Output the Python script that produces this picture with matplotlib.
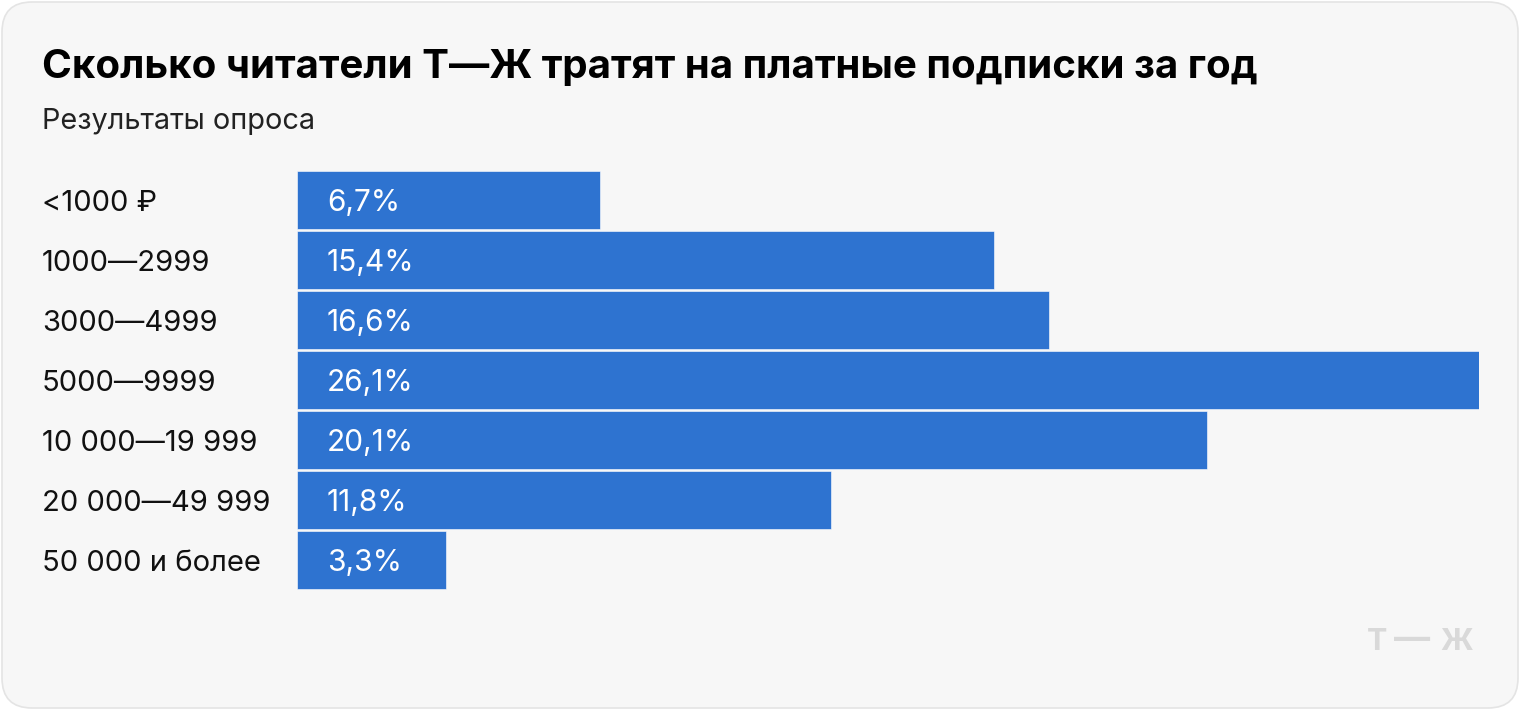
import matplotlib.pyplot as plt
from matplotlib.patches import FancyBboxPatch

plt.rcParams['font.family'] = ['Inter', 'DejaVu Sans']

W, H = 1520, 710

categories = ["<1000 ₽", "1000—2999", "3000—4999", "5000—9999",
              "10 000—19 999", "20 000—49 999", "50 000 и более"]
shares = [6.7, 15.4, 16.6, 26.1, 20.1, 11.8, 3.3]
value_labels = ["6,7%", "15,4%", "16,6%", "26,1%", "20,1%", "11,8%", "3,3%"]

TITLE = "Сколько читатели Т—Ж тратят на платные подписки за год"
SUBTITLE = "Результаты опроса"
BAR = "#2e73d0"

fig = plt.figure(figsize=(W / 100, H / 100), dpi=100)
fig.patch.set_facecolor("white")

# card background
bg = fig.add_axes([0, 0, 1, 1])
bg.set_xlim(0, W)
bg.set_ylim(H, 0)
bg.axis("off")
bg.add_patch(FancyBboxPatch((2, 2), W - 4, H - 4,
                            boxstyle="round,pad=0,rounding_size=30",
                            facecolor="#f7f7f7", edgecolor="#e4e4e4", lw=1.2))

fig.text(42 / W, 1 - 78 / H, TITLE, fontsize=29, fontweight="bold",
         color="#000000", va="baseline", ha="left")
fig.text(42 / W, 1 - 129 / H, SUBTITLE, fontsize=20.8, color="#222222",
         va="baseline", ha="left")
# logo, letters spaced out to match the wide wordmark
for ch, xc, fs in zip("Т—Ж", [1377, 1412, 1457], [22, 26, 22]):
    fig.text(xc / W, 1 - 650 / H, ch, fontsize=fs, fontweight="bold",
             color="#d9d9d9", va="baseline", ha="center")

# bars
left, right, top, bottom = 297, 1479, 170, 590
ax = fig.add_axes([left / W, 1 - bottom / H, (right - left) / W, (bottom - top) / H])
ax.patch.set_alpha(0)
ax.set_xlim(0, max(shares))
n = len(categories)
ax.set_ylim(n - 0.5, -0.5)
ax.axis("off")

ax.barh(range(n), shares, height=58 / 60, color=BAR, edgecolor="white", linewidth=0.4)

px = right - left
tr = ax.get_yaxis_transform()
for i, (cat, lab) in enumerate(zip(categories, value_labels)):
    ax.text((42 - left) / px, i + 11 / 60, cat, transform=tr, fontsize=21,
            color="#111111", ha="left", va="baseline", clip_on=False)
    ax.text(30 / px, i + 11 / 60, lab, transform=tr, fontsize=21.5,
            color="white", ha="left", va="baseline")

fig.savefig("out.png", dpi=100, facecolor=fig.get_facecolor())
